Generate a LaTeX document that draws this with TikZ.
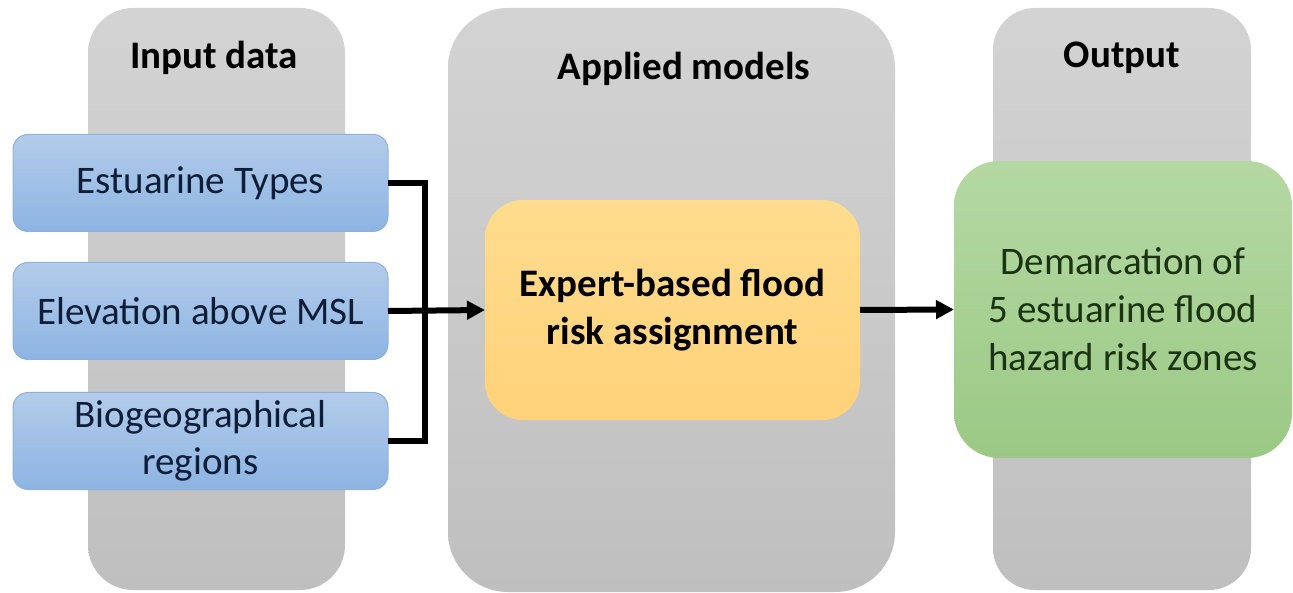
\documentclass[tikz,border=0pt]{standalone}
\usepackage{fontspec}
\setmainfont{Carlito}
\usetikzlibrary{arrows.meta}
\definecolor{colTop}{HTML}{D3D3D3}
\definecolor{colBot}{HTML}{BFBFBF}
\definecolor{blueTop}{HTML}{B3CCEA}
\definecolor{blueBot}{HTML}{8DB4E2}
\definecolor{blueEdge}{HTML}{8FB0DA}
\definecolor{blueText}{HTML}{0F1E38}
\definecolor{orTop}{HTML}{FFDC8E}
\definecolor{orBot}{HTML}{FFD27A}
\definecolor{grTop}{HTML}{B5D8A3}
\definecolor{grBot}{HTML}{9BC985}
\definecolor{grText}{HTML}{1A3312}
\tikzset{
  column/.style={top color=colTop, bottom color=colBot, draw=none, inner sep=0pt, outer sep=0pt},
  header/.style={font=\fontsize{39}{46}\selectfont\bfseries, text=black, inner sep=0pt},
  inbox/.style={top color=blueTop, bottom color=blueBot, draw=blueEdge, line width=1pt,
    rounded corners=15pt, minimum width=375pt, minimum height=97pt, inner sep=0pt, outer sep=0pt,
    align=center, text=blueText, font=\fontsize{39}{47}\selectfont},
  modelbox/.style={top color=orTop, bottom color=orBot, draw=none, rounded corners=38pt,
    minimum width=375pt, minimum height=220pt, inner sep=0pt, outer sep=0pt,
    align=center, text=black, font=\fontsize{39}{48}\selectfont\bfseries},
  outbox/.style={top color=grTop, bottom color=grBot, draw=none, rounded corners=45pt,
    minimum width=338pt, minimum height=297pt, inner sep=0pt, outer sep=0pt,
    align=center, text=grText, font=\fontsize{39}{48}\selectfont},
  link/.style={line width=6pt, draw=black},
  arrowlink/.style={line width=6pt, draw=black, -{Triangle[length=18pt,width=18pt]}}
}
\begin{document}
\begin{tikzpicture}[x=1pt,y=-1pt]
\useasboundingbox (0,0) rectangle (1293,593);
% columns
\node[column, rounded corners=45pt, minimum width=257pt, minimum height=582pt] (colIn) at (216.5,299) {};
\node[column, rounded corners=60pt, minimum width=447pt, minimum height=584pt] (colMod) at (671.5,300) {};
\node[column, rounded corners=42pt, minimum width=258pt, minimum height=582pt] (colOut) at (1122,299) {};
\node[header] (hIn) at (214,58) {Input data};
\node[header] (hMod) at (684,69) {Applied models};
\node[header] (hOut) at (1122,58) {Output};
% input boxes
\node[inbox] (est) at (200.5,183) {Estuarine Types};
\node[inbox] (elev) at (200.5,311) {Elevation above MSL};
\node[inbox] (bio) at (200.5,441) {Biogeographical\\regions};
% model and output
\node[modelbox] (model) at (672.5,310) {Expert-based flood\\risk assignment};
\node[outbox] (outp) at (1123,309.5) {Demarcation of\\5 estuarine flood\\hazard risk zones};
% connectors
\coordinate (junc) at (425,311);
\draw[link] (est.east) -| (junc) |- (bio.east);
\draw[arrowlink] (elev.east) -- (model.west);
\draw[arrowlink] (model.east) -- (outp.west);
\end{tikzpicture}
\end{document}
